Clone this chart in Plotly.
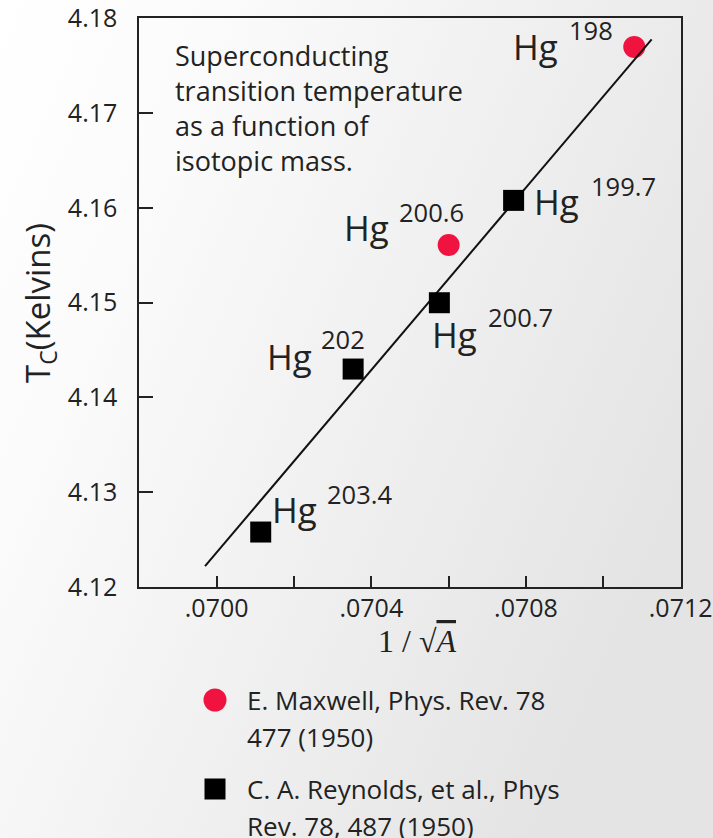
import base64
import plotly.graph_objects as go

# ---------------- data ----------------
maxwell_x = [0.07108, 0.07060]
maxwell_y = [4.1770, 4.1561]
maxwell_mass = ["198", "200.6"]

reynolds_x = [0.070768, 0.070576, 0.070353, 0.070114]
reynolds_y = [4.1608, 4.1500, 4.1430, 4.1258]
reynolds_mass = ["199.7", "200.7", "202", "203.4"]

fit_x = [0.06997, 0.071125]
fit_y = [4.1222, 4.1778]

x_tickvals = [0.0700, 0.0702, 0.0704, 0.0706, 0.0708, 0.0710, 0.0712]
x_ticktext = [".0700", "", ".0704", "", ".0708", "", ".0712"]
y_tickvals = [4.12, 4.13, 4.14, 4.15, 4.16, 4.17, 4.18]
y_ticktext = ["4.12", "4.13", "4.14", "4.15", "4.16", "4.17", "4.18"]

element = "Hg"
note_lines = ["Superconducting", "transition temperature", "as a function of", "isotopic mass."]
legend_lines = [["E. Maxwell, Phys. Rev. 78", "477 (1950)"],
                ["C. A. Reynolds, et al., Phys", "Rev. 78, 487 (1950)"]]
legend_rows = [0, 1]

# ---------------- styling / layout ----------------
W, H = 713, 838
FONT = "Open Sans"
TXT = "#222222"
RED = "#f0123f"

# label offsets in px (Hg dx, Hg dy, number dx, number dy), y positive = down
label_offsets = {
    "198": (-118, 0, -64, -17),
    "200.6": (-102, -17, -49, -33),
    "199.7": (23, 1.5, 78, -14),
    "200.7": (-4, 32, 50, 14),
    "202": (-83, -13, -31, -30),
    "203.4": (14, -23, 67, -38),
}
LEGEND_LINE_GAP = 36.5

fig = go.Figure()

fig.add_trace(go.Scatter(x=maxwell_x, y=maxwell_y, mode="markers",
                         marker=dict(symbol="circle", size=22, color=RED),
                         cliponaxis=False, showlegend=False, hoverinfo="skip"))
fig.add_trace(go.Scatter(x=fit_x, y=fit_y, mode="lines",
                         line=dict(color="#111111", width=2),
                         showlegend=False, hoverinfo="skip"))
fig.add_trace(go.Scatter(x=reynolds_x, y=reynolds_y, mode="markers",
                         marker=dict(symbol="square", size=21, color="#000000"),
                         cliponaxis=False, showlegend=False, hoverinfo="skip"))

# legend swatches on a helper axis
fig.add_trace(go.Scatter(x=[0], y=[legend_rows[0]], xaxis="x2", yaxis="y2", mode="markers",
                         marker=dict(symbol="circle", size=23, color=RED),
                         cliponaxis=False, showlegend=False, hoverinfo="skip"))
fig.add_trace(go.Scatter(x=[0], y=[legend_rows[1]], xaxis="x2", yaxis="y2", mode="markers",
                         marker=dict(symbol="square", size=21, color="#000000"),
                         cliponaxis=False, showlegend=False, hoverinfo="skip"))

annotations = []
for xs, ys, ms in [(maxwell_x, maxwell_y, maxwell_mass), (reynolds_x, reynolds_y, reynolds_mass)]:
    for x, y, m in zip(xs, ys, ms):
        hdx, hdy, ndx, ndy = label_offsets[m]
        annotations.append(dict(x=x, y=y, xref="x", yref="y", text=element, showarrow=False,
                                xanchor="left", yanchor="middle", xshift=hdx - 4, yshift=-hdy,
                                borderpad=0, font=dict(family=FONT, size=35, color=TXT)))
        annotations.append(dict(x=x, y=y, xref="x", yref="y", text=m, showarrow=False,
                                xanchor="left", yanchor="middle", xshift=ndx - 2, yshift=-ndy,
                                borderpad=0, font=dict(family=FONT, size=25.5, color=TXT)))

annotations.append(dict(x=174 / W, y=1 - 36 / H, xref="paper", yref="paper",
                        text="<br>".join(note_lines), showarrow=False, align="left",
                        xanchor="left", yanchor="top", borderpad=0,
                        font=dict(family=FONT, size=27, color=TXT)))

# axis titles
annotations.append(dict(x=39 / W, y=1 - 303 / H, xref="paper", yref="paper",
                        text="T<sub>C</sub>(Kelvins)", textangle=-90, showarrow=False,
                        xanchor="center", yanchor="middle", borderpad=0,
                        font=dict(family=FONT, size=33, color=TXT)))
annotations.append(dict(x=417 / W, y=1 - 641 / H, xref="paper", yref="paper",
                        text="1 / √<span style=\"text-decoration:overline\"><i>A</i></span>",
                        showarrow=False, xanchor="center", yanchor="middle", borderpad=0,
                        font=dict(family="Liberation Serif", size=32, color=TXT)))

# legend text, one annotation per line
for row, lines in zip(legend_rows, legend_lines):
    for k, line in enumerate(lines):
        annotations.append(dict(x=246 / W, y=row, xref="paper", yref="y2", text=line,
                                showarrow=False, align="left", xanchor="left", yanchor="middle",
                                yshift=-k * LEGEND_LINE_GAP, borderpad=0,
                                font=dict(family=FONT, size=26, color=TXT)))

svg = ('<svg xmlns="http://www.w3.org/2000/svg" width="713" height="838">'
       '<defs><linearGradient id="g" x1="0" y1="0" x2="1" y2="0.5">'
       '<stop offset="0" stop-color="#ffffff"/><stop offset="0.25" stop-color="#fbfbfb"/>'
       '<stop offset="1" stop-color="#e4e4e4"/></linearGradient></defs>'
       '<rect width="713" height="838" fill="url(#g)"/></svg>')
bg_src = "data:image/svg+xml;base64," + base64.b64encode(svg.encode()).decode()

axis_common = dict(showline=True, linecolor="#222222", linewidth=2, mirror=True,
                   ticks="inside", tickcolor="#222222", tickwidth=2,
                   showgrid=False, zeroline=False, automargin=False, fixedrange=True)

fig.update_layout(
    width=W, height=H,
    margin=dict(l=0, r=0, t=0, b=0),
    paper_bgcolor="#ffffff",
    plot_bgcolor="rgba(0,0,0,0)",
    showlegend=False,
    font=dict(family=FONT, color=TXT),
    xaxis=dict(domain=[139.3 / W, 680.7 / W], range=[0.0698, 0.0712001],
               tickmode="array", tickvals=x_tickvals, ticktext=x_ticktext,
               ticklen=11, ticklabelstandoff=-2,
               tickfont=dict(family=FONT, size=25, color=TXT), **axis_common),
    yaxis=dict(domain=[(H - 587) / H, (H - 17.5) / H], range=[4.12, 4.1801],
               tickmode="array", tickvals=y_tickvals, ticktext=y_ticktext,
               ticklen=14, ticklabelstandoff=15,
               tickfont=dict(family=FONT, size=25, color=TXT), **axis_common),
    xaxis2=dict(domain=[205 / W, 225 / W], range=[-1, 1], visible=False, anchor="y2",
                fixedrange=True),
    yaxis2=dict(domain=[(H - 789) / H, (H - 700) / H], range=[1, 0], visible=False,
                anchor="x2", fixedrange=True),
    annotations=annotations,
    images=[dict(source=bg_src, xref="paper", yref="paper", x=0, y=1, sizex=1, sizey=1,
                 xanchor="left", yanchor="top", sizing="stretch", layer="below")],
)

fig.write_html("out.html", config={"displayModeBar": False},
               post_script="document.body.style.margin='0';document.body.style.overflow='hidden';")
